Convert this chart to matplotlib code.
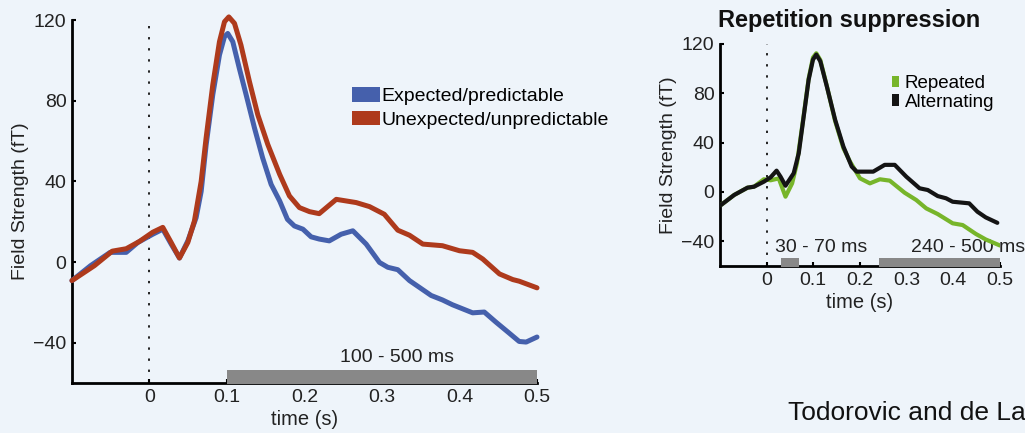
import matplotlib
matplotlib.use("Agg")
import matplotlib.pyplot as plt
from matplotlib.patches import Patch

plt.rcParams['font.family'] = ['Liberation Sans', 'DejaVu Sans']

# ---- Left panel data (time in s, field strength in fT)
t_exp = [-0.1, -0.076, -0.0507, -0.03, -0.015, 0.0043, 0.0172, 0.028, 0.0387, 0.0495, 0.0602,
         0.0667, 0.0731, 0.0817, 0.0903, 0.0968, 0.101, 0.1075, 0.116, 0.1247, 0.1355, 0.146,
         0.157, 0.168, 0.178, 0.187, 0.198, 0.2086, 0.219, 0.232, 0.2473, 0.2624, 0.2796,
         0.2968, 0.3075, 0.3204, 0.3355, 0.348, 0.3635, 0.378, 0.391, 0.417, 0.432, 0.447,
         0.4624, 0.477, 0.486, 0.5]
v_exp = [-9.2, -1.8, 4.8, 4.8, 9.7, 13.8, 16.3, 8.9, 2.0, 10.5, 22,
         35, 58, 83, 102.7, 111.8, 113.4, 109.3, 96, 83, 66.5, 51.7,
         38.5, 30.3, 21.2, 17.9, 16.3, 12.5, 11.4, 10.5, 13.8, 15.5, 8.9,
         -0.2, -2.6, -3.8, -9.2, -12.5, -16.6, -18.8, -21.2, -25.2, -24.8, -29.8,
         -34.7, -39.4, -39.7, -37.2]

t_unexp = [-0.1, -0.071, -0.048, -0.03, -0.013, 0.0043, 0.0172, 0.028, 0.0387, 0.0495, 0.058,
           0.0667, 0.0731, 0.0817, 0.0903, 0.0968, 0.1024, 0.1097, 0.118, 0.129, 0.1398,
           0.1527, 0.168, 0.1806, 0.1935, 0.2065, 0.219, 0.241, 0.2667, 0.2839, 0.303,
           0.3204, 0.3355, 0.3527, 0.378, 0.4, 0.417, 0.43, 0.4516, 0.4688, 0.477, 0.5]
v_unexp = [-9.2, -1.8, 5.4, 6.6, 10.2, 14.8, 17.2, 9.7, 2.0, 9.7, 20.4,
           40, 61.6, 87.9, 109.3, 119.2, 121.6, 118.4, 107.7, 89.5, 73,
           58.3, 43.5, 32.8, 27, 25, 24, 31.1, 29.5, 27.5, 23.7,
           15.8, 13.3, 8.9, 8.1, 5.6, 4.8, 1.5, -5.9, -8.7, -9.5, -12.8]

# ---- Right panel data
t_alt = [-0.098, -0.0695, -0.041, -0.027, -0.0057, 0.0085, 0.0213, 0.0298, 0.0404, 0.058,
         0.0688, 0.0794, 0.09, 0.0993, 0.1064, 0.115, 0.129, 0.1468, 0.1645, 0.1823, 0.193,
         0.2283, 0.253, 0.2745, 0.2993, 0.3277, 0.3453, 0.3666, 0.3844, 0.3986, 0.434,
         0.4517, 0.4695, 0.4943]
v_alt = [-10.6, -2.4, 3.5, 4.3, 8.4, 11.9, 17.3, 12.4, 5.1, 15.2,
         31.4, 61.2, 91, 107.3, 111.4, 106, 85.6, 58.5, 36.8, 20.6, 16.5,
         16.5, 22, 22, 12.4, 3.0, 1.6, -3.3, -5.1, -7.9, -9.2,
         -16, -20.6, -25]

t_rep = [-0.098, -0.0695, -0.041, -0.027, -0.006, 0.0085, 0.026, 0.0404, 0.0546, 0.065,
         0.0794, 0.09, 0.0993, 0.1064, 0.115, 0.129, 0.1468, 0.1645, 0.1787, 0.2, 0.2213,
         0.2426, 0.2638, 0.2957, 0.3206, 0.342, 0.3666, 0.3986, 0.42, 0.4483, 0.4695, 0.5]
v_rep = [-10.6, -2.4, 3.5, 4.3, 10.3, 9.5, 11, -3.8, 7, 23.3,
         62, 92, 109, 112.5, 107, 86, 57.5, 35.5, 24.6, 11.1, 7,
         10.3, 9.2, -0.6, -6.5, -13.3, -17.9, -25.4, -26.8, -34, -38.5, -43.4]

left_window = (0.1, 0.5)
right_windows = [(0.03, 0.07), (0.24, 0.5)]
left_window_label = "100 - 500 ms"
right_window_labels = ["30 - 70 ms", "240 - 500 ms"]

yticks = [-40, 0, 40, 80, 120]
ytick_labels = ["\u221240", "0", "40", "80", "120"]
xticks = [0, 0.1, 0.2, 0.3, 0.4, 0.5]
xticklabels = ["0", "0.1", "0.2", "0.3", "0.4", "0.5"]

BG = "#EEF4FA"
BLUE = "#4560AC"
RED = "#AE3A1C"
GREEN = "#77B52A"
BLACK = "#141414"
GRAY = "#888888"
TXT = "#222222"

fig = plt.figure(figsize=(10.25, 4.33), dpi=100, facecolor=BG)


def style_axes(ax, ylabelpad):
    ax.set_facecolor(BG)
    ax.patch.set_alpha(0)
    for s in ("top", "right"):
        ax.spines[s].set_visible(False)
    for s in ("left", "bottom"):
        ax.spines[s].set_linewidth(2)
        ax.spines[s].set_color("black")
    ax.set_xlim(-0.1, 0.5)
    ax.set_ylim(-60, 120)
    ax.set_xticks(xticks)
    ax.set_xticklabels(xticklabels)
    ax.set_yticks(yticks)
    ax.set_yticklabels(ytick_labels)
    ax.tick_params(direction="in", length=3, width=1.5, labelsize=14, colors="black",
                   labelcolor=TXT, pad=4)
    ax.axvline(0, color="#222222", linestyle=(0, (1.2, 4.5)), linewidth=1.4, zorder=1)
    ax.set_xlabel("time (s)", fontsize=14.5, color=TXT, labelpad=3)
    ax.set_ylabel("Field Strength (fT)", fontsize=14, color=TXT, labelpad=ylabelpad)


# Left panel
ax1 = fig.add_axes([0.0702, 0.1155, 0.4537, 0.838])
style_axes(ax1, 3)
ax1.plot(t_exp, v_exp, color=BLUE, linewidth=3.6, solid_joinstyle="round",
         solid_capstyle="round", zorder=3, clip_on=False)
ax1.plot(t_unexp, v_unexp, color=RED, linewidth=3.6, solid_joinstyle="round",
         solid_capstyle="round", zorder=3, clip_on=False)
ax1.fill_between(left_window, -60.5, -53.8, color=GRAY, linewidth=0, zorder=4, clip_on=False)
ax1.text(0.319, -47.4, left_window_label, fontsize=14, ha="center", va="center", color=TXT)
ax1.legend(handles=[Patch(facecolor=BLUE, label="Expected/predictable"),
                    Patch(facecolor=RED, label="Unexpected/unpredictable")],
           loc="upper left", bbox_to_anchor=(0.602, 0.815), frameon=False, fontsize=14,
           handlelength=1.45, handleheight=0.75, handletextpad=0.05, labelspacing=0.3,
           borderaxespad=0, borderpad=0)

# Right panel
ax2 = fig.add_axes([0.7024, 0.3857, 0.2732, 0.5127])
style_axes(ax2, 3)
ax2.plot(t_rep, v_rep, color=GREEN, linewidth=3.0, solid_joinstyle="round",
         solid_capstyle="round", zorder=3)
ax2.plot(t_alt, v_alt, color=BLACK, linewidth=3.0, solid_joinstyle="round",
         solid_capstyle="round", zorder=3)
for (a, b) in right_windows:
    ax2.fill_between((a, b), -60.5, -53.5, color=GRAY, linewidth=0, zorder=4, clip_on=False)
ax2.text(0.116, -45, right_window_labels[0], fontsize=14, ha="center", va="center", color=TXT)
ax2.text(0.432, -45, right_window_labels[1], fontsize=14, ha="center", va="center", color=TXT,
         clip_on=False, zorder=2)
ax2.legend(handles=[Patch(facecolor=GREEN, label="Repeated"),
                    Patch(facecolor=BLACK, label="Alternating")],
           loc="upper left", bbox_to_anchor=(0.614, 0.86), frameon=False, fontsize=13.5,
           handlelength=0.38, handleheight=0.6, handletextpad=0.3, labelspacing=0.08,
           borderaxespad=0, borderpad=0)
ax2.text(0.4625, 1.108, "Repetition suppression", transform=ax2.transAxes, fontsize=17,
         fontweight="bold", ha="center", va="center", color="#111111")

fig.text(0.769, 0.046, "Todorovic and de Lange", fontsize=19, color="#111111",
         va="center", ha="left")

fig.savefig("out.png", dpi=100, facecolor=BG)
